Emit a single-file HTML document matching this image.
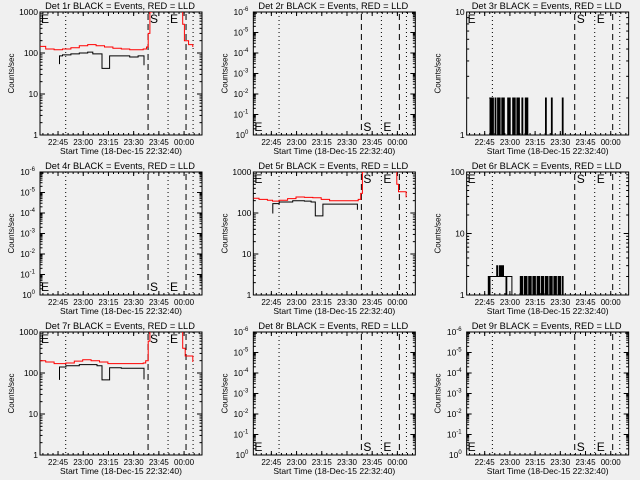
<!DOCTYPE html>
<html><head><meta charset="utf-8"><style>
html,body{margin:0;padding:0;background:#f0f0f0;}
svg{display:block;font-family:"Liberation Sans",sans-serif;}
</style></head><body>
<svg id="c" width="640" height="480" viewBox="0 0 640 480"></svg>
<script>
// time in minutes after 22:32:40
const timeTicks = [12.33, 27.33, 42.33, 57.33, 72.33, 87.33];
const timeTickLabels = ["22:45","23:00","23:15","23:30","23:45","00:00"];
const dottedLines = [16.9, 77.8, 92.7];
const dashedLines = [65.9, 88.5];

const red1T = [1.6,5,10,15,20,25,30,35,40,45,50,55,60,63,65,66,67,68];
const red1V = [145,125,120,125,135,150,160,150,140,130,125,120,120,125,140,300,1000,2000];
const red1bT = [85.5,86.5,87.5,90,92.5];
const red1bV = [1500,500,200,160,140];
const blk1T = [12.9,13.2,15,20,25,30,33,38.5,43,50,55,60,63.5];
const blk1V = [55,85,90,95,100,105,95,42,85,85,80,85,50];

const red5T = [1.6,5,10,13,17,22,27,32,37,42,47,55,62,64,65.5,66.5,67.5];
const red5V = [230,215,205,195,205,225,245,240,235,215,200,200,200,215,300,1000,2000];
const red5bT = [86,87,88,92.5];
const red5bV = [1500,500,330,240];
const blk5T = [12.9,13.2,17,25,32,36,38.5,43,50,60,63.5];
const blk5V = [100,170,185,200,195,185,85,165,165,165,120];

const red7T = [1.6,5,10,17,22,27,32,37,42,55,63,64.5,66,67];
const red7V = [200,185,170,175,195,210,200,185,170,170,175,200,600,1500];
const red7bT = [85.5,86.5,88,92.5];
const red7bV = [1500,400,260,185];
const blk7T = [12.9,13.2,17,25,32,35.5,38.5,43,50,60,63.5];
const blk7V = [70,140,150,160,160,150,68,135,130,130,70];

const evt3T0 = 15;
const evt3V = [2,1,2,1,2,1,1,2,1,1,2,1,2,1,1,2,1,2,1,1,1,1,2,1,2,1,1,1,2,1,2,1,1,2,1,2,1,1,1,2,1,1,1,2,1,2,1,1,1,1,1,1,1,1,1,1,1,1,1,1,1,1,1,1,1,1,1,2,1,1,1,1,1,1,2,1,1,1,1,1,1,1,1,1,1,1,1,2,1,1,1,1,1,1];
const evt6T0 = 14;
const evt6V = [1,2,1,2,2,2,2,2,2,2,2,3,2,2,3,2,3,2,3,2,2,2,1,2,2,2,2,2,2,1,1,1,1,1,1,1,1,1,1,2,1,2,1,1,2,1,2,1,1,2,1,2,1,1,2,1,2,1,1,2,1,2,1,1,2,1,2,1,1,2,1,2,1,1,2,1,2,1,1,2,1,2,1,1,2,1,2,1,1,2,1,1,1,1,1,1,1,1,1,1];

const panels = [
 {n:1, ymin:1,ymax:1000, lbl:"top", red:[[red1T,red1V],[red1bT,red1bV]], blk:[[blk1T,blk1V]]},
 {n:2, ymin:1e-6,ymax:1, lbl:"bot", neg:true},
 {n:3, ymin:1,ymax:10, lbl:"top", evt:[evt3T0,evt3V]},
 {n:4, ymin:1e-6,ymax:1, lbl:"bot", neg:true},
 {n:5, ymin:1,ymax:1000, lbl:"top", red:[[red5T,red5V],[red5bT,red5bV]], blk:[[blk5T,blk5V]]},
 {n:6, ymin:1,ymax:100, lbl:"top", evt:[evt6T0,evt6V]},
 {n:7, ymin:1,ymax:1000, lbl:"top", red:[[red7T,red7V],[red7bT,red7bV]], blk:[[blk7T,blk7V]]},
 {n:8, ymin:1e-6,ymax:1, lbl:"bot", neg:true},
 {n:9, ymin:1e-6,ymax:1, lbl:"bot", neg:true}
];
const NS="http://www.w3.org/2000/svg";
const svg=document.getElementById('c');
function mk(tag,attrs,parent){const e=document.createElementNS(NS,tag);for(const k in attrs)e.setAttribute(k,attrs[k]);(parent||svg).appendChild(e);return e;}
const T0=1.6,T1=98;
panels.forEach((p,i)=>{
 const c=i%3,r=Math.floor(i/3);
 const ox=c*213.33, oy=r*160;
 const L=ox+40,R=ox+202,Tp=oy+12,B=oy+135;
 const g=mk('g',{});
 
 
 const xs=t=>L+(t-T0)/(T1-T0)*(R-L);
 const lmin=Math.log10(p.ymin), lmax=Math.log10(p.ymax);
 const ys=v=>B-(Math.log10(v)-lmin)/(lmax-lmin)*(B-Tp);
 const clipId='clip'+p.n;
 const cp=mk('clipPath',{id:clipId},g);mk('rect',{x:L,y:Tp,width:R-L,height:B-Tp},cp);
 const t=mk('text',{x:ox+120,y:oy+9,'font-size':9.3,'text-anchor':'middle',fill:'#000'},g);
 t.textContent='Det '+p.n+'r BLACK = Events, RED = LLD';
 
 
 const box=mk('rect',{x:L,y:Tp,width:R-L,height:B-Tp,fill:'none',stroke:'#000','stroke-width':1},g);
 
 
 timeTicks.forEach((tt,k)=>{
  const x=xs(tt);
  mk('line',{x1:x,y1:B,x2:x,y2:B-4,stroke:'#000'},g);
  mk('line',{x1:x,y1:Tp,x2:x,y2:Tp+4,stroke:'#000'},g);
  const l=mk('text',{x:x,y:B+10,'font-size':8,'text-anchor':'middle'},g);
  l.textContent=timeTickLabels[k];
  
  
 });
 for(let tt=timeTicks[0]-15;tt<T1;tt+=3){const x=xs(tt);if(x<L||x>R)continue;
  mk('line',{x1:x,y1:B,x2:x,y2:B-2,stroke:'#000'},g);mk('line',{x1:x,y1:Tp,x2:x,y2:Tp+2,stroke:'#000'},g);}
 const xt=mk('text',{x:ox+121,y:B+19,'font-size':8.5,'text-anchor':'middle'},g);
 xt.textContent='Start Time (18-Dec-15 22:32:40)';
 
 
 const yt=mk('text',{x:0,y:0,'font-size':8,'text-anchor':'middle',transform:`translate(${ox+14},${(Tp+B)/2}) rotate(-90)`},g);
 yt.textContent='Counts/sec';
 
 
 for(let d=Math.round(lmin);d<=Math.round(lmax);d++){
  const y=ys(Math.pow(10,d));
  mk('line',{x1:L,y1:y,x2:L+5,y2:y,stroke:'#000'},g);mk('line',{x1:R,y1:y,x2:R-5,y2:y,stroke:'#000'},g);
  const lb=mk('text',{x:L-2,y:y+3,'font-size':8.5,'text-anchor':'end'},g);
  if(p.neg){const ex=Math.round(lmin)-d;lb.textContent='10';const s=mk('tspan',{dy:-4,'font-size':6},lb);s.textContent=(ex===0?'0':String(ex));lb.setAttribute('x',L-5);}
  else lb.textContent=String(Math.pow(10,d));
  
  
  if(d<Math.round(lmax))for(let m=2;m<10;m++){const ym=ys(m*Math.pow(10,d));
   mk('line',{x1:L,y1:ym,x2:L+2.5,y2:ym,stroke:'#000'},g);mk('line',{x1:R,y1:ym,x2:R-2.5,y2:ym,stroke:'#000'},g);}
 }
 dottedLines.forEach(tt=>{const x=xs(tt);const ln=mk('line',{x1:x,y1:Tp,x2:x,y2:B,stroke:'#000','stroke-dasharray':'1,3'},g);
  });
 dashedLines.forEach(tt=>{const x=xs(tt);const ln=mk('line',{x1:x,y1:Tp+2,x2:x,y2:B,stroke:'#000','stroke-dasharray':'6,4'},g);
  });
 const ly=p.lbl==='top'?Tp+11:B-4;
 [[L+1,'E'],[xs(dashedLines[0])+2,'S'],[xs(dottedLines[1])+2,'E']].forEach(a=>{
  const e=mk('text',{x:a[0],y:ly,'font-size':12},g);e.textContent=a[1];
  });
 const dg=mk('g',{'clip-path':`url(#${clipId})`},g);
 function step(T,V,col,name){
  let d='';for(let k=0;k<T.length;k++){const x=xs(T[k]),y=ys(V[k]);d+=(k===0?'M'+x.toFixed(1)+','+y.toFixed(1):'H'+x.toFixed(1)+'V'+y.toFixed(1));}
  const pa=mk('path',{d:d,fill:'none',stroke:col,'stroke-width':1},dg);
  
 }
 (p.red||[]).forEach(s=>step(s[0],s[1],'#f00','lld-series'));
 (p.blk||[]).forEach(s=>step(s[0],s[1],'#000','events-series'));
 if(p.evt){const T=p.evt[1].map((v,k)=>p.evt[0]+k*0.5);const V=p.evt[1].slice();T.push(T[T.length-1]+0.5);V.push(1);step(T,V,'#000','events-series');}
});
</script>
</body></html>
